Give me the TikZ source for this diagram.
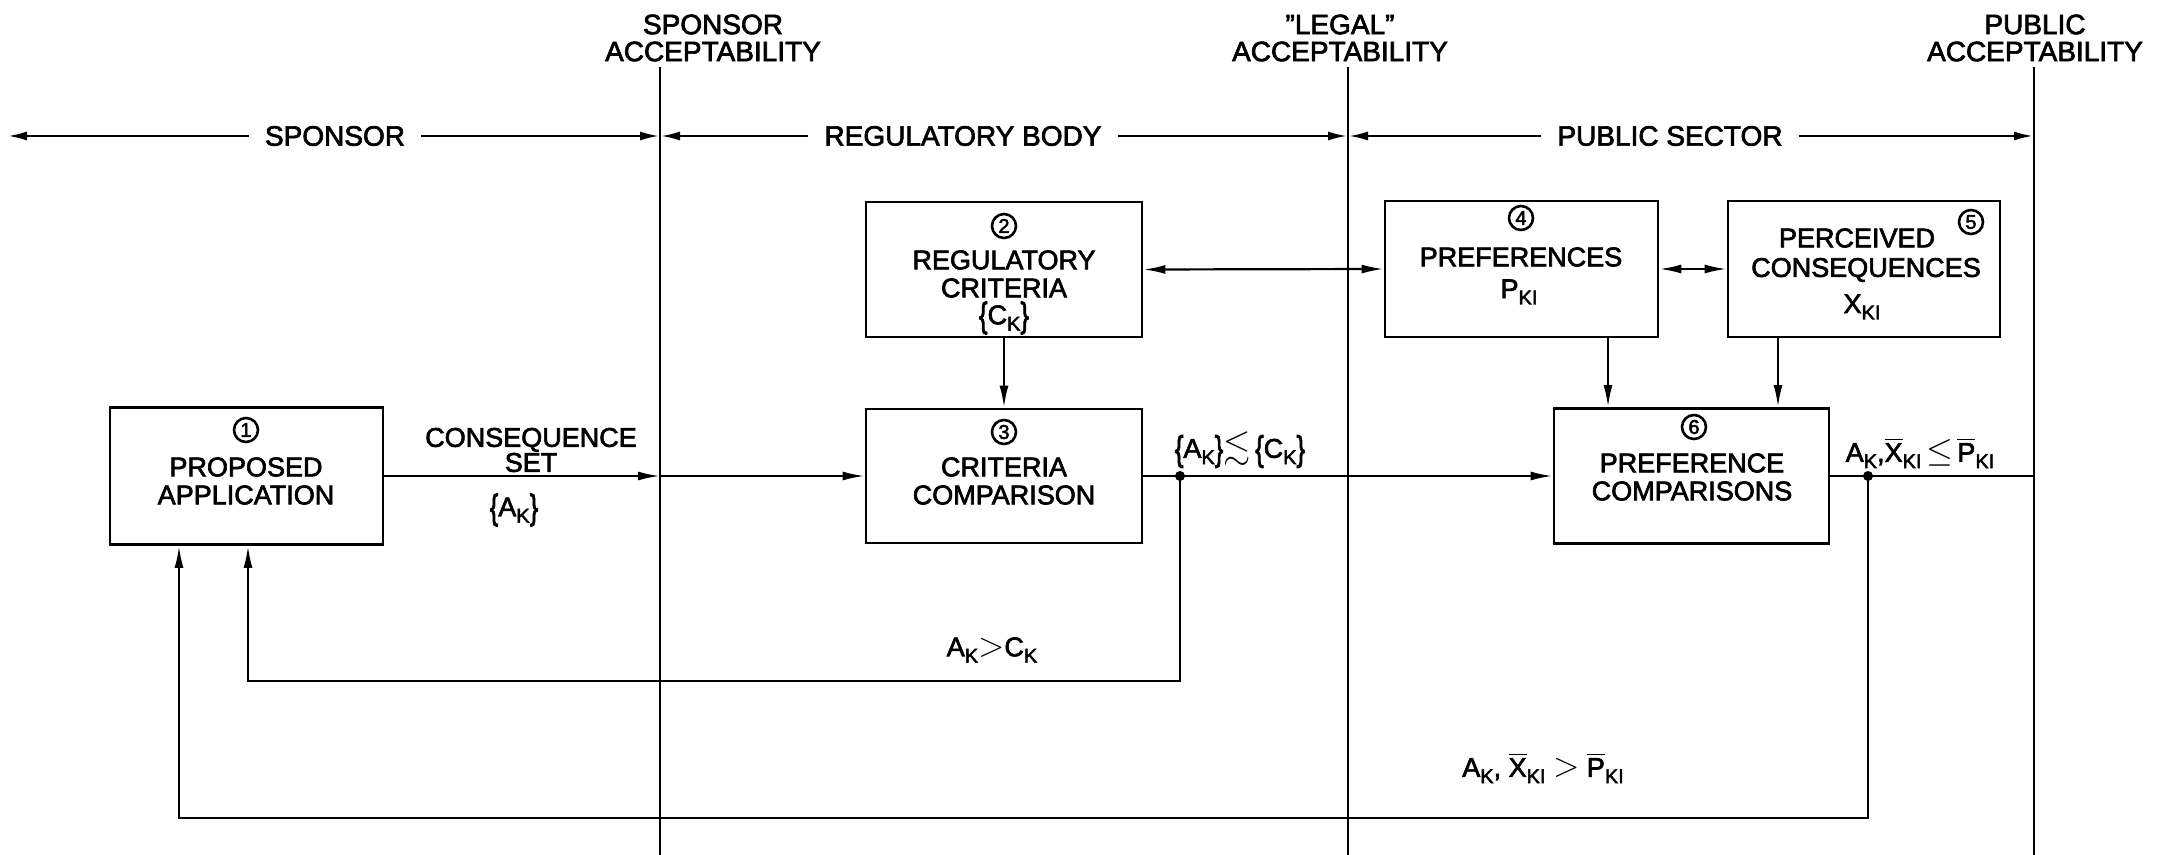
\documentclass[tikz,border=0pt]{standalone}
\usepackage{fontspec}
\usepackage{amssymb}
\usepackage{graphicx}
\setmainfont{Liberation Sans}[BoldFont={Liberation Sans},BoldFeatures={FakeBold=2.4}]
\usetikzlibrary{arrows.meta}
\newcommand\lowsub[1]{\raisebox{-0.45ex}{\fontsize{10}{10}\selectfont #1}}
\newcommand\ovl[1]{\ensuremath{\overline{\mbox{#1}}}}
\newcommand\lbr{\raisebox{-0.2ex}{\scalebox{0.95}[1.3]{\{}}}
\newcommand\rbr{\raisebox{-0.2ex}{\scalebox{0.95}[1.3]{\}}}}
\begin{document}
\begin{tikzpicture}[x=0.5pt,y=-0.5pt,
 sep/.style={line width=0.9pt},
 line/.style={line width=1.1pt},
 flow/.style={line width=1.1pt,-{Latex[length=11pt,width=4.5pt]}},
 both/.style={line width=1.1pt,{Latex[length=11pt,width=4.5pt]}-{Latex[length=11pt,width=4.5pt]}},
 harrow/.style={line width=1.4pt,-{Latex[length=10pt,width=4.5pt]}},
 box/.style={draw,line width=1.4pt,inner sep=0pt},
 lbl/.style={font=\bfseries\fontsize{13.5}{14}\selectfont,align=center,inner sep=1pt},
 hdr/.style={font=\bfseries\fontsize{14}{13.5}\selectfont,align=center,inner sep=0pt},
 num/.style={circle,draw,line width=1.3pt,minimum size=12pt,inner sep=0pt,font=\bfseries\fontsize{10}{10}\selectfont},
 dot/.style={circle,fill,inner sep=0pt,minimum size=5pt}]
\useasboundingbox (0,0) rectangle (2159,855);

% separator lines
\coordinate (v1t) at (660,67);  \coordinate (v1b) at (660,855);
\coordinate (v2t) at (1348,67); \coordinate (v2b) at (1348,855);
\coordinate (v3t) at (2034,67); \coordinate (v3b) at (2034,855);
\draw[sep] (v1t) -- (v1b);
\draw[sep] (v2t) -- (v2b);
\draw[sep] (v3t) -- (v3b);

% headers
\node[hdr] (h1) at (713,38) {SPONSOR\\ACCEPTABILITY};
\node[hdr] (h2) at (1340,38) {\symbol{34}LEGAL\symbol{34}\\ACCEPTABILITY};
\node[hdr] (h3) at (2035,38) {PUBLIC\\ACCEPTABILITY};

% sector labels
\node[hdr,inner xsep=8pt] (rs) at (335,136) {SPONSOR};
\node[hdr,inner xsep=8pt] (rr) at (963,136) {REGULATORY BODY};
\node[hdr,inner xsep=8pt] (rp) at (1670,136) {PUBLIC SECTOR};
\coordinate (hl) at (7,136);
\draw[harrow] (rs.west) -- (hl);
\draw[harrow] (rs.east) -- (rs.east -| v1t);
\draw[harrow] (rr.west) -- (rr.west -| v1t);
\draw[harrow] (rr.east) -- (rr.east -| v2t);
\draw[harrow] (rp.west) -- (rp.west -| v2t);
\draw[harrow] (rp.east) -- (rp.east -| v3t);

% boxes
\node[box,minimum width=136.5pt,minimum height=68.5pt] (b1) at (246.5,476) {};
\node[box,minimum width=138pt,minimum height=67.5pt] (b2) at (1004,269.5) {};
\node[box,minimum width=138pt,minimum height=67pt] (b3) at (1004,476) {};
\node[box,minimum width=136.5pt,minimum height=68pt] (b4) at (1521.5,269) {};
\node[box,minimum width=136pt,minimum height=68pt] (b5) at (1864,269) {};
\node[box,minimum width=137.5pt,minimum height=67.5pt] (b6) at (1691.5,476) {};

% box texts
\node[num] (n1) at (246,430) {1};
\node[lbl] (t1) at (246,481) {PROPOSED\\APPLICATION};
\node[num] (n2) at (1004,226) {2};
\node[lbl] (t2a) at (1004,274) {REGULATORY\\CRITERIA};
\node[lbl] (t2b) at (1004,318) {\lbr C\lowsub{K}\rbr};
\node[num] (n3) at (1004,432) {3};
\node[lbl] (t3) at (1004,481) {CRITERIA\\COMPARISON};
\node[num] (n4) at (1521,218) {4};
\node[lbl] (t4a) at (1521,257) {PREFERENCES};
\node[lbl] (t4b) at (1519,292) {P\lowsub{KI}};
\node[num] (n5) at (1971,222) {5};
\node[lbl] (t5a) at (1857,238) {PERCEIVED};
\node[lbl] (t5b) at (1866,270) {CONSEQUENCES};
\node[lbl] (t5c) at (1862,307) {X\lowsub{KI}};
\node[num] (n6) at (1694,427) {6};
\node[lbl] (t6) at (1692,477) {PREFERENCE\\COMPARISONS};

% main flow
\coordinate (s1) at (b1.east -| v1t);
\draw[flow] (b1.east) -- (s1);
\draw[flow] (s1) -- (b3.west);
\draw[flow] (b3.east) -- (b6.west);
\draw[line] (b6.east) -- (b6.east -| v3t);
\draw[flow] (b2.south) -- (b3.north);
\draw[both] (b2.east) -- (b4.west);
\draw[both] (b4.east) -- (b5.west);
\coordinate (a4) at (1608,337);
\coordinate (a5) at (1778,337);
\draw[flow] (a4) -- (a4 |- b6.north);
\draw[flow] (a5) -- (a5 |- b6.north);

% junctions and feedback
\coordinate (j1) at (1180,476);
\coordinate (j2) at (1868,476);
\node[dot] (d1) at (j1) {};
\node[dot] (d2) at (j2) {};
\coordinate (c1) at (248,681);
\coordinate (c2) at (179,818);
\draw[flow] (j1) |- (c1) -- (c1 |- b1.south);
\draw[flow] (j2) |- (c2) -- (c2 |- b1.south);

% labels
\node[lbl,font=\bfseries\fontsize{13.5}{12.5}\selectfont] (lcs) at (531,450) {CONSEQUENCE\\SET};
\node[lbl] (lak) at (514,510) {\lbr A\lowsub{K}\rbr};
\node[lbl] (lcmp) at (1240,450) {\lbr A\lowsub{K}\rbr\scalebox{1.3}{$\lesssim$}\,\lbr C\lowsub{K}\rbr};
\node[lbl] (lpub) at (1920,453) {A\lowsub{K},\ovl{X}\lowsub{KI}\,\scalebox{1.2}{$\leq$}\,\ovl{P}\lowsub{KI}};
\node[lbl] (lgt) at (992,650) {A\lowsub{K}\scalebox{1.2}{$>$}C\lowsub{K}};
\node[lbl] (lgt2) at (1543,768) {A\lowsub{K}, \ovl{X}\lowsub{KI} \scalebox{1.2}{$>$} \ovl{P}\lowsub{KI}};
\end{tikzpicture}
\end{document}
